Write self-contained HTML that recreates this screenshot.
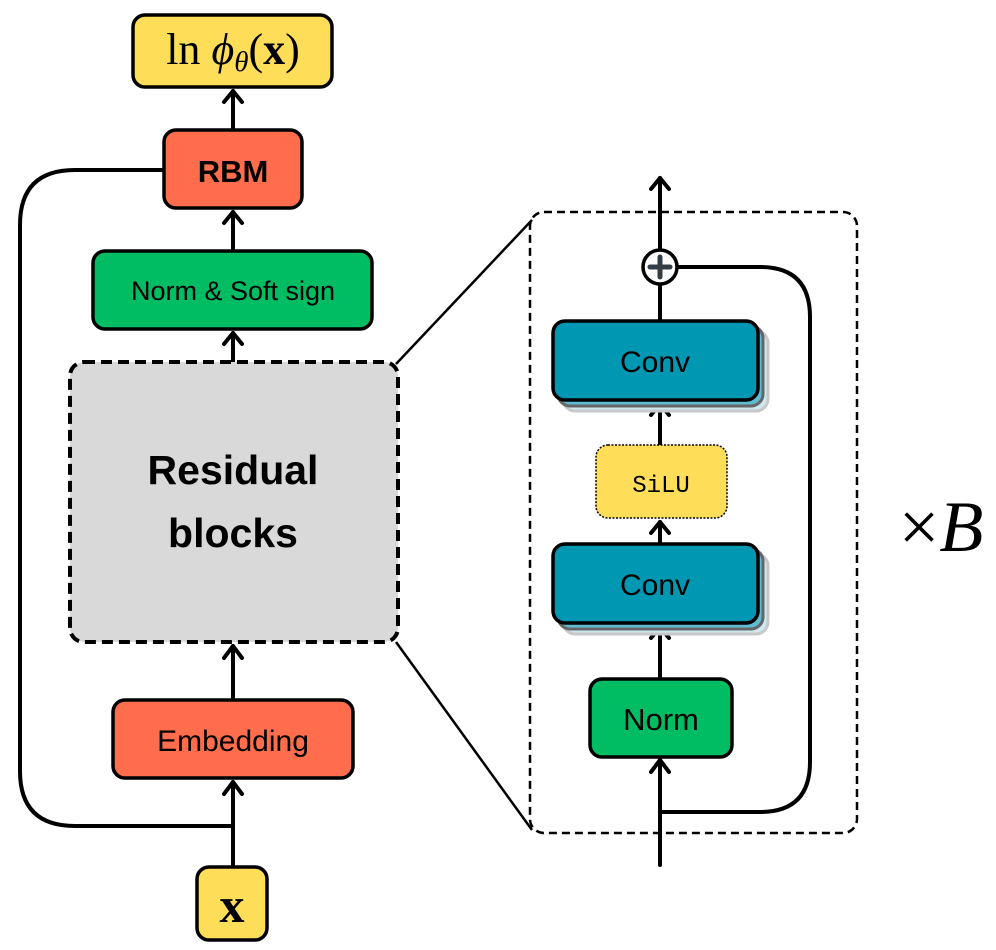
<!DOCTYPE html>
<html><head><meta charset="utf-8"><style>
html,body{margin:0;padding:0;background:#fff;}
svg{display:block;}
.s{font-family:"Liberation Sans",sans-serif;}
</style></head><body>
<svg width="996" height="950" viewBox="0 0 996 950" xmlns="http://www.w3.org/2000/svg">
<g fill="none" stroke="#000" stroke-width="4" stroke-linecap="round" stroke-linejoin="round">
<line x1="233" y1="867" x2="233" y2="782"/>
<polyline points="224,794 233,782 242,794"/>
<line x1="233" y1="700" x2="233" y2="646"/>
<polyline points="224,658 233,646 242,658"/>
<line x1="233" y1="362" x2="233" y2="333"/>
<polyline points="224,344 233,333 242,344"/>
<line x1="233" y1="251" x2="233" y2="212"/>
<polyline points="224,223 233,212 242,223"/>
<line x1="233" y1="130" x2="233" y2="91"/>
<polyline points="224,102 233,91 242,102"/>
<path d="M164,170 H75 Q20,170 20,225 V771 Q20,826 75,826 H233"/>
<line x1="660" y1="865" x2="660" y2="760"/>
<polyline points="651,772 660,760 669,772"/>
<line x1="660" y1="679" x2="660" y2="627"/>
<polyline points="651,638 660,627 669,638"/>
<line x1="660" y1="544" x2="660" y2="522"/>
<polyline points="651,533 660,522 669,533"/>
<line x1="660" y1="445" x2="660" y2="404"/>
<polyline points="651,415 660,404 669,415"/>
<line x1="660" y1="321" x2="660" y2="178"/>
<polyline points="651,189 660,178 669,189"/>
<path d="M677,267 H760 Q810,267 810,317 V762 Q810,812 760,812 H660"/>
</g>
<g stroke="#000" stroke-width="2.5">
<line x1="396" y1="364" x2="532" y2="220"/>
<line x1="396" y1="642" x2="532" y2="830"/>
</g>
<rect x="530" y="212" width="327" height="621" rx="14" fill="none" stroke="#000" stroke-width="2.5" stroke-dasharray="8,5"/>
<g stroke="#000" stroke-width="3.5">
<rect x="133" y="15" width="199" height="72" rx="12" fill="#FEDD58"/>
<rect x="164" y="130" width="138" height="78" rx="12" fill="#FF6D4C"/>
<rect x="93" y="251" width="279" height="78" rx="12" fill="#00BC62"/>
<rect x="70" y="362" width="328" height="280" rx="14" fill="#D9D9D9" stroke-width="4" stroke-dasharray="11,6"/>
<rect x="113" y="700" width="240" height="78" rx="12" fill="#FF6D4C"/>
<rect x="197" y="867" width="70" height="73" rx="12" fill="#FEDD58"/>
<rect x="563" y="331" width="205" height="80" rx="12" fill="#CDE8EF" stroke="#c8c8c8" stroke-width="3"/>
<rect x="558" y="326" width="205" height="80" rx="12" fill="#5DBCD0" stroke="#666" stroke-width="3"/>
<rect x="553" y="321" width="205" height="79" rx="12" fill="#0097B2"/>
<rect x="563" y="554" width="205" height="80" rx="12" fill="#CDE8EF" stroke="#c8c8c8" stroke-width="3"/>
<rect x="558" y="549" width="205" height="80" rx="12" fill="#5DBCD0" stroke="#666" stroke-width="3"/>
<rect x="553" y="544" width="205" height="79" rx="12" fill="#0097B2"/>
<rect x="596" y="445" width="131" height="73" rx="12" fill="#FEDD58" stroke-width="1.5" stroke-dasharray="2,1.5"/>
<rect x="590" y="679" width="142" height="78" rx="12" fill="#00BC62"/>
<circle cx="660" cy="267" r="17" fill="#fff"/>
</g>
<g stroke="#333d45" stroke-width="5" stroke-linecap="round">
<line x1="650" y1="267" x2="670" y2="267"/><line x1="660" y1="257" x2="660" y2="277"/>
</g>
<g text-anchor="middle" fill="#000">
<text x="233" y="64" font-family="Liberation Serif,serif" font-size="44">ln <tspan font-style="italic">ϕ</tspan><tspan font-style="italic" font-size="29" dy="7">θ</tspan><tspan dy="-7">(</tspan><tspan font-weight="bold">x</tspan>)</text>
<text class="s" x="233" y="182" font-size="31" font-weight="bold">RBM</text>
<text class="s" x="233" y="300" font-size="27">Norm &amp; Soft sign</text>
<text class="s" x="233" y="484" font-size="41" font-weight="bold">Residual</text>
<text class="s" x="233" y="547" font-size="41" font-weight="bold">blocks</text>
<text class="s" x="233" y="751" font-size="30">Embedding</text>
<text x="232" y="922" font-family="Liberation Serif,serif" font-size="50" font-weight="bold">x</text>
<text class="s" x="655" y="372" font-size="30">Conv</text>
<text class="s" x="655" y="595" font-size="30">Conv</text>
<text x="661" y="492" font-family="Liberation Mono,monospace" font-size="24">SiLU</text>
<text class="s" x="661" y="730" font-size="31">Norm</text>
<text x="941" y="551" font-family="Liberation Serif,serif" font-size="72"><tspan>×</tspan><tspan font-style="italic">B</tspan></text>
</g>
</svg>
</body></html>
